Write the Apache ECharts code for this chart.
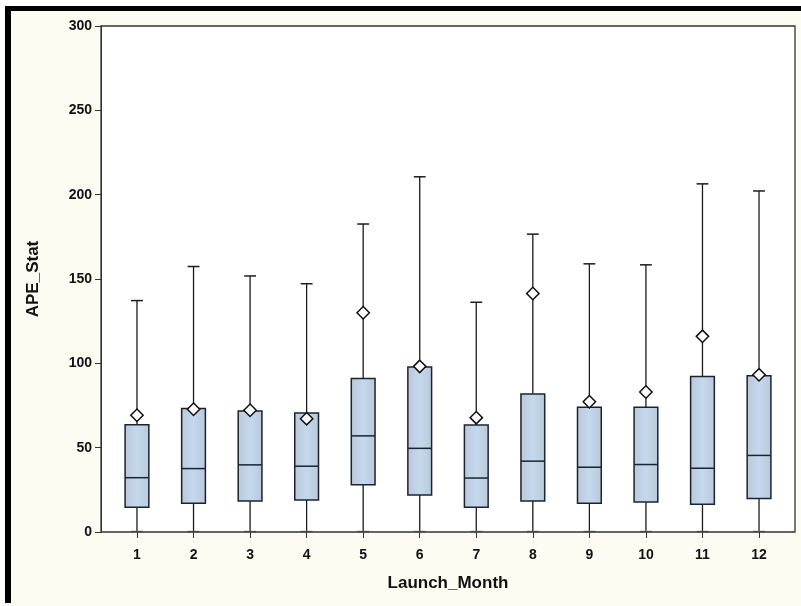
<!DOCTYPE html>
<html>
<head>
<meta charset="utf-8">
<script src="https://cdn.jsdelivr.net/npm/echarts@6/dist/echarts.min.js"></script>
<style>
  html, body { margin: 0; padding: 0; background: #fff; }
  #chart { width: 801px; height: 606px; }
</style>
</head>
<body>
<div id="chart"></div>
<script>
// box plot data per launch month
const months = ['1', '2', '3', '4', '5', '6', '7', '8', '9', '10', '11', '12']
const whiskerLow = [0, 0, 0, 0, 0, 0, 0, 0, 0, 0, 0, 0]
const q1 = [14.6, 17, 18.4, 19, 28, 22, 14.6, 18.4, 17, 17.8, 16.4, 19.8]
const median = [32.2, 37.6, 39.8, 39, 57, 49.6, 32, 42, 38.4, 40, 37.8, 45.4]
const q3 = [63.6, 73.2, 71.8, 70.6, 91, 97.8, 63.4, 81.8, 74, 74, 92.2, 92.6]
const whiskerHigh = [137.2, 157.4, 151.8, 147.2, 182.6, 210.6, 136.2, 176.6, 159, 158.4, 206.4, 202.2]
const mean = [69.2, 72.8, 72.2, 67.2, 130, 98.2, 67.8, 141.4, 77.2, 83, 116, 93.2]
const yTicks = [0, 50, 100, 150, 200, 250, 300]

const chart = echarts.init(document.getElementById('chart'))

const rows = months.map((m, i) => [i, whiskerLow[i], q1[i], median[i], q3[i], whiskerHigh[i], mean[i]])

function renderBox(params, api) {
  const idx = api.value(0)
  const pLow = api.coord([idx, api.value(1)])
  const pQ1 = api.coord([idx, api.value(2)])
  const pMed = api.coord([idx, api.value(3)])
  const pQ3 = api.coord([idx, api.value(4)])
  const pHigh = api.coord([idx, api.value(5)])
  const pMean = api.coord([idx, api.value(6)])
  const band = api.size([1, 0])[0]
  const bw = band * 0.42
  const cw = bw * 0.5
  const x = pMed[0]
  const line = '#1b1b1b'
  const d = 6.2
  return {
    type: 'group',
    children: [
      { type: 'line', shape: { x1: x, y1: pQ3[1], x2: x, y2: pHigh[1] }, style: { stroke: line, lineWidth: 1.3 } },
      { type: 'line', shape: { x1: x, y1: pQ1[1], x2: x, y2: pLow[1] }, style: { stroke: line, lineWidth: 1.3 } },
      { type: 'line', shape: { x1: x - cw / 2, y1: pHigh[1], x2: x + cw / 2, y2: pHigh[1] }, style: { stroke: line, lineWidth: 1.5 } },
      { type: 'line', shape: { x1: x - cw / 2, y1: pLow[1] - 0.5, x2: x + cw / 2, y2: pLow[1] - 0.5 }, style: { stroke: '#8a8a8a', lineWidth: 1.5 } },
      {
        type: 'rect',
        shape: { x: x - bw / 2, y: pQ3[1], width: bw, height: pQ1[1] - pQ3[1] },
        style: {
          fill: new echarts.graphic.LinearGradient(0, 0, 1, 0, [
            { offset: 0, color: '#bac8d8' },
            { offset: 0.5, color: '#c4d8ee' },
            { offset: 1, color: '#bac8d8' }
          ]),
          stroke: '#1a2430',
          lineWidth: 1.5
        }
      },
      { type: 'line', shape: { x1: x - bw / 2, y1: pMed[1], x2: x + bw / 2, y2: pMed[1] }, style: { stroke: '#1a2430', lineWidth: 1.5 } },
      {
        type: 'polygon',
        shape: { points: [[x, pMean[1] - d], [x + d, pMean[1]], [x, pMean[1] + d], [x - d, pMean[1]]] },
        style: { fill: '#ffffff', stroke: '#111', lineWidth: 1.5 }
      }
    ]
  }
}

const option = {
  backgroundColor: '#fcfcf3',
  animation: false,
  textStyle: { fontFamily: 'Liberation Sans, Arial, sans-serif' },
  graphic: [
    { type: 'rect', z: -10, shape: { x: 101, y: 26, width: 694, height: 506 }, style: { fill: '#ffffff', stroke: 'none' } },
    { type: 'rect', z: 10, shape: { x: 101, y: 26, width: 694, height: 506 }, style: { fill: 'none', stroke: '#333', lineWidth: 1.3 } },
    { type: 'rect', z: 10, shape: { x: 0, y: 0, width: 801, height: 6 }, style: { fill: '#ffffff' } },
    { type: 'rect', z: 10, shape: { x: 0, y: 0, width: 5, height: 606 }, style: { fill: '#ffffff' } },
    { type: 'rect', z: 10, shape: { x: 5, y: 6, width: 796, height: 5 }, style: { fill: '#000000' } },
    { type: 'rect', z: 10, shape: { x: 5, y: 6, width: 6, height: 597 }, style: { fill: '#000000' } }
  ],
  grid: { left: 108.7, right: 13.7, top: 26, bottom: 74 },
  xAxis: {
    type: 'category',
    data: months,
    name: 'Launch_Month',
    nameLocation: 'middle',
    nameGap: 43,
    nameTextStyle: { color: '#111', fontSize: 17, fontWeight: 'bold' },
    axisLine: { show: false },
    axisTick: { show: true, alignWithLabel: true, length: 6, lineStyle: { color: '#333' } },
    axisLabel: { color: '#111', fontSize: 14, fontWeight: 'bold', margin: 16 },
    splitLine: { show: false }
  },
  yAxis: {
    type: 'value',
    min: 0,
    max: 300,
    interval: 50,
    offset: 7.7,
    name: 'APE_Stat',
    nameLocation: 'middle',
    nameGap: 59,
    nameTextStyle: { color: '#111', fontSize: 17, fontWeight: 'bold' },
    axisLine: { show: true, lineStyle: { color: '#333' } },
    axisTick: { show: true, length: 6, lineStyle: { color: '#333' } },
    axisLabel: { color: '#111', fontSize: 14, fontWeight: 'bold', margin: 9,
      formatter: v => (yTicks.indexOf(v) >= 0 ? String(v) : '') },
    splitLine: { show: false }
  },
  series: [
    {
      type: 'custom',
      renderItem: renderBox,
      encode: { x: 0, y: [1, 2, 3, 4, 5, 6] },
      data: rows,
      clip: false
    }
  ]
}

chart.setOption(option)
</script>
</body>
</html>
